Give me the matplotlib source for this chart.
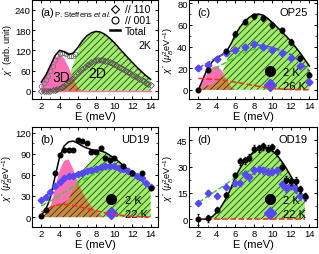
import numpy as np
import matplotlib
matplotlib.use('Agg')
import matplotlib.pyplot as plt
from matplotlib.ticker import MultipleLocator
from matplotlib.lines import Line2D

plt.rcParams['font.family'] = ['Liberation Sans', 'DejaVu Sans']
plt.rcParams['mathtext.fontset'] = 'custom'
plt.rcParams['mathtext.rm'] = 'Liberation Sans'
plt.rcParams['mathtext.it'] = 'Liberation Sans:italic'
plt.rcParams['hatch.linewidth'] = 0.5
plt.rcParams['hatch.color'] = '#1e1e1e'

PINK = '#ff6fb6'
GREEN = '#9cef66'
BROWN = '#c98a3e'
BLUE = '#5548ff'
LGREEN = '#3fcf2a'
RED = '#ff2a1a'

# energy grid of the model curves (meV)
E = np.arange(2.0, 14.01, 0.5)
E_int = np.arange(2.0, 14.01, 1.0)

# ---- (a) P. Steffens et al.
a_3d = [26, 45, 70, 96, 108, 96, 70, 35, 10, 0, 0, 0, 0, 0, 0, 0, 0, 0, 0, 0, 0, 0, 0, 0, 0]
a_2d = [0, 2, 5, 8, 12, 20, 38, 77, 118, 148, 163, 172, 176, 174, 167, 156, 143, 128, 113,
        98, 84, 70, 57, 45, 34]
a_E110 = np.arange(2.0, 14.01, 0.25)
a_110 = [0, 0, 0, 0.5, 1, 2, 3, 5, 7, 10, 14, 19, 25, 31, 38, 45, 52, 58, 64, 70, 76, 81,
         85, 88, 90, 91, 91, 90, 89, 87, 85, 82, 79, 76, 72, 68, 64, 60, 56, 52, 48, 44,
         40, 36, 32, 28, 24, 20, 17]
a_E001 = np.arange(2.0, 5.76, 0.25)
a_001 = [15, 22, 32, 45, 60, 75, 90, 102, 110, 113, 112, 108, 104, 103, 104, 108]

# ---- (b) UD19
b_3d = [0, 2, 14, 40, 66, 80, 82, 68, 50, 35, 24, 15, 8, 3, 0, 0, 0, 0, 0, 0, 0, 0, 0, 0, 0]
b_2d = [3, 9, 14, 17, 19, 21, 25, 40, 55, 66, 74, 81, 87, 91, 92, 88, 84, 79, 73, 68, 62,
        57, 52, 46, 41]
b_E2K = [2, 2.5, 3.5, 4, 4.5, 5, 5.5, 6, 6.5, 7, 7.5, 8, 8.5, 9, 9.5, 10, 11, 12, 13, 14]
b_2K = [2, 10, 62, 88, 96, 96, 95, 109, 108, 105, 93, 93, 98, 84, 81, 84, 72, 62, 63, 42]
b_22K = [25, 29, 36, 44, 50, 56, 58, 59, 61, 63, 66, 67, 69, 71, 72, 72, 72, 70, 68, 65,
         62, 58, 55, 49, 43]
b_blue = [23, 36, 48, 57, 63, 68, 71, 73, 73, 70, 63, 53, 41]
b_green = [16, 23, 31, 39, 48, 56, 62, 67, 69, 68, 62, 52, 41]
b_red = [7, 14, 18, 18, 15, 12, 9, 6, 4, 2, 1, 0.5, 0]

# ---- (c) OP25
c_3d = [0, 8, 16, 21, 22, 18, 10, 3, 0, 0, 0, 0, 0, 0, 0, 0, 0, 0, 0, 0, 0, 0, 0, 0, 0]
c_2d = [0, 2, 4, 5, 8, 14, 25, 39, 51, 58, 63, 67, 69.5, 70, 69, 66, 62, 58, 54, 49.5, 45,
        39.5, 34, 28, 22]
c_E2K = [2, 3, 5, 6, 7, 8, 9, 10, 11, 12, 13, 14]
c_2K = [0, 18, 36, 52, 63, 68, 66, 60, 55, 44, 29, 14]
c_2K_err = [1, 2, 2, 2.5, 2.5, 2.5, 2.5, 2.5, 2.5, 2.5, 2, 2]
c_26K = [20, 23, 28, 34, 37, 40, 42, 40, 37, 34, 29, 22, 7]
c_blue = [20, 25, 30, 34, 37, 40, 41.5, 41, 39, 36.5, 32.5, 26, 17]
c_green = [9.5, 15, 20.5, 25.5, 30, 34.5, 37.5, 38.5, 37.5, 35.8, 32.2, 26, 17]
c_red = [10.5, 10, 9.5, 8.5, 7, 5.5, 4, 2.5, 1.5, 0.7, 0.3, 0, 0]

# ---- (d) OD19
d_E = np.arange(2.0, 13.51, 0.5)
d_tot = [0, 0, 0.2, 1.5, 4, 7.5, 12, 17.5, 24, 29, 33, 36, 38.5, 40.5, 41, 40.5, 39, 36.5,
         33, 29, 24.5, 20, 16, 12]
d_Epts = [2, 3, 4, 5, 6, 6.5, 7, 7.5, 8, 8.5, 9, 9.5, 10, 10.5, 11, 11.5, 12, 12.5, 13, 13.5]
d_2K = [0, 0.5, 5.5, 14, 25, 33, 33.5, 35, 40, 40.5, 41.5, 40, 41, 38, 30, 22.5, 21.5, 22,
        17, 13]
d_2K_err = [3, 2, 1.5, 1.5, 1.5, 2, 2, 2, 2, 2, 2, 2, 2, 2, 2, 2, 2, 2, 2, 2]
d_22K = [9, 15, 13.5, 18.5, 20.5, 20.5, 25.5, 24, 28, 28.5, 28, 27, 27, 28, 20, 17.5, 19,
         17, 13, 12.5]
d_22K_err = [1, 1.5, 1.5, 1.5, 1.5, 1.5, 2, 2, 2, 2, 2, 2, 2, 2, 2, 2, 2, 2, 2, 2]
d_Eg = [2, 3, 4, 5, 6, 7, 8, 9, 10, 11, 12, 13, 13.5]
d_green = [9.5, 13, 16.5, 20, 24, 27, 28.5, 29, 28, 25, 20.5, 15.5, 13]


def style(ax, ylim, ymaj, ylabel, labx):
    ax.set_xlim(1, 14.8)
    ax.set_ylim(*ylim)
    ax.xaxis.set_major_locator(MultipleLocator(2))
    ax.xaxis.set_minor_locator(MultipleLocator(1))
    ax.yaxis.set_major_locator(MultipleLocator(ymaj))
    ax.yaxis.set_minor_locator(MultipleLocator(ymaj / 2.))
    ax.tick_params(which='both', direction='in', top=True, right=True, labelsize=6.8, pad=1.5)
    ax.tick_params(axis='y', pad=1)
    ax.tick_params(which='major', length=2.5, width=0.7)
    ax.tick_params(which='minor', length=1.3, width=0.5)
    for s in ax.spines.values():
        s.set_linewidth(0.8)
    ax.set_xlabel('E (meV)', fontsize=8, labelpad=1)
    ax.set_ylabel(ylabel, fontsize=6.6)
    ax.yaxis.set_label_coords(labx, 0.5)


def components(ax, x, d3, d2):
    d3 = np.asarray(d3, float)
    d2 = np.asarray(d2, float)
    ax.fill_between(x, 0, d2, facecolor=GREEN, hatch='/////', lw=0, zorder=1)
    ax.fill_between(x, 0, d3, facecolor=PINK, lw=0, zorder=2)
    ax.fill_between(x, 0, np.minimum(d2, d3), facecolor=BROWN, hatch='/////', lw=0, zorder=3)
    ax.plot(x, d2 + d3, color='k', lw=1.1, zorder=6)


def temp_legend(ax, hot):
    h = [Line2D([], [], ls='none', marker='o', ms=7, color='k'),
         Line2D([], [], ls='none', marker='D', ms=6.5, color=BLUE)]
    ax.legend(h, ['2 K', hot], loc='lower right', bbox_to_anchor=(0.98, 0.0), frameon=False,
              fontsize=8, handlelength=1.2, handletextpad=0.6, labelspacing=0.35,
              borderpad=0.2)


def tags(ax, letter, name=None):
    ax.text(0.06, 0.88, letter, transform=ax.transAxes, fontsize=8, va='center', zorder=9)
    if name:
        ax.text(0.93, 0.88, name, transform=ax.transAxes, fontsize=8, ha='right',
                va='center', zorder=9)


fig = plt.figure(figsize=(3.19, 2.55), dpi=100)
ax_a = fig.add_axes([0.101, 0.608, 0.394, 0.388])
ax_b = fig.add_axes([0.101, 0.106, 0.394, 0.392])
ax_c = fig.add_axes([0.593, 0.608, 0.400, 0.388])
ax_d = fig.add_axes([0.593, 0.106, 0.400, 0.392])

ylab = r"$\chi''$ ($\mu_B^2$eV$^{-1}$)"

# (a)
components(ax_a, E, a_3d, a_2d)
ax_a.plot(E, np.zeros_like(E), color=PINK, lw=1, zorder=4)
ax_a.plot(a_E110, a_110, ls='none', marker='D', ms=3, mfc='none', mec='#555555', mew=0.6, zorder=5)
ax_a.plot(a_E001, a_001, ls='none', marker='o', ms=3.3, mfc='none', mec='#777777', mew=0.6, zorder=5)
ax_a.text(3.2, 28, '3D', fontsize=10, zorder=7)
ax_a.text(7.2, 42, '2D', fontsize=10, zorder=7)
tags(ax_a, '(a)')
ax_a.text(0.175, 0.865, 'P. Steffens $\\it{et\\ al.}$', transform=ax_a.transAxes,
          fontsize=5.5, va='center', zorder=9)
h = [Line2D([], [], ls='none', marker='D', ms=4.5, mfc='none', mec='k', mew=0.8),
     Line2D([], [], ls='none', marker='o', ms=5, mfc='none', mec='k', mew=0.8),
     Line2D([], [], color='k', lw=1.8)]
ax_a.legend(h, ['// 110', '// 001', 'Total'], loc='upper right', bbox_to_anchor=(1.0, 1.03),
            frameon=False, fontsize=7.5, handlelength=1.0, handletextpad=0.4,
            labelspacing=0.08, borderpad=0.2)
ax_a.text(0.95, 0.55, '2K', transform=ax_a.transAxes, fontsize=7.5, ha='right', va='center')
style(ax_a, (-24, 269), 60, r"$\chi''$ (arb. unit)", -0.14)

# (b)
components(ax_b, E, b_3d, b_2d)
ax_b.plot(E_int, b_red, ls='--', color=RED, lw=1.1, zorder=6)
ax_b.plot(E_int, b_green, ls='--', color=LGREEN, lw=1.1, zorder=6)
ax_b.plot(E_int, b_blue, ls='--', color=BLUE, lw=1.1, zorder=6)
ax_b.plot(E, b_22K, ls='none', marker='D', ms=3.3, color=BLUE, zorder=7)
ax_b.plot(b_E2K, b_2K, ls='none', marker='o', ms=3.3, color='k', zorder=8)
tags(ax_b, '(b)', 'UD19')
temp_legend(ax_b, '22 K')
style(ax_b, (-14, 128), 30, ylab, -0.14)

# (c)
components(ax_c, E, c_3d, c_2d)
ax_c.plot(E_int, c_red, ls='--', color=RED, lw=1.1, zorder=6)
ax_c.plot(E_int[1:], c_green[1:], ls='--', color=LGREEN, lw=1.1, zorder=6)
ax_c.plot(E_int, c_blue, ls='--', color=BLUE, lw=1.1, zorder=6)
ax_c.plot(E_int, c_26K, ls='none', marker='D', ms=3.5, color=BLUE, zorder=7)
ax_c.errorbar(c_E2K, c_2K, yerr=c_2K_err, fmt='o', ms=3.3, color='k', elinewidth=0.6,
              capsize=0.8, zorder=8)
tags(ax_c, '(c)', 'OP25')
temp_legend(ax_c, '26 K')
style(ax_c, (-8.5, 83), 20, ylab, -0.105)

# (d)
ax_d.fill_between(d_E, 0, d_tot, facecolor=GREEN, hatch='/////', lw=0, zorder=1)
ax_d.plot(d_E, d_tot, color='k', lw=1.1, zorder=6)
ax_d.plot(d_E, np.zeros_like(d_E), ls='--', color=RED, lw=1.1, zorder=6)
ax_d.plot(d_Eg, d_green, ls='--', color=LGREEN, lw=1.1, zorder=6)
ax_d.errorbar(d_Epts, d_22K, yerr=d_22K_err, fmt='D', ms=3.3, color=BLUE, elinewidth=0.6,
              capsize=0.8, zorder=7)
ax_d.errorbar(d_Epts, d_2K, yerr=d_2K_err, fmt='o', ms=3.3, color='k', elinewidth=0.6,
              capsize=0.8, zorder=8)
tags(ax_d, '(d)', 'OD19')
temp_legend(ax_d, '22 K')
style(ax_d, (-4.4, 52.5), 15, ylab, -0.105)

fig.savefig('out.png', dpi=100)
